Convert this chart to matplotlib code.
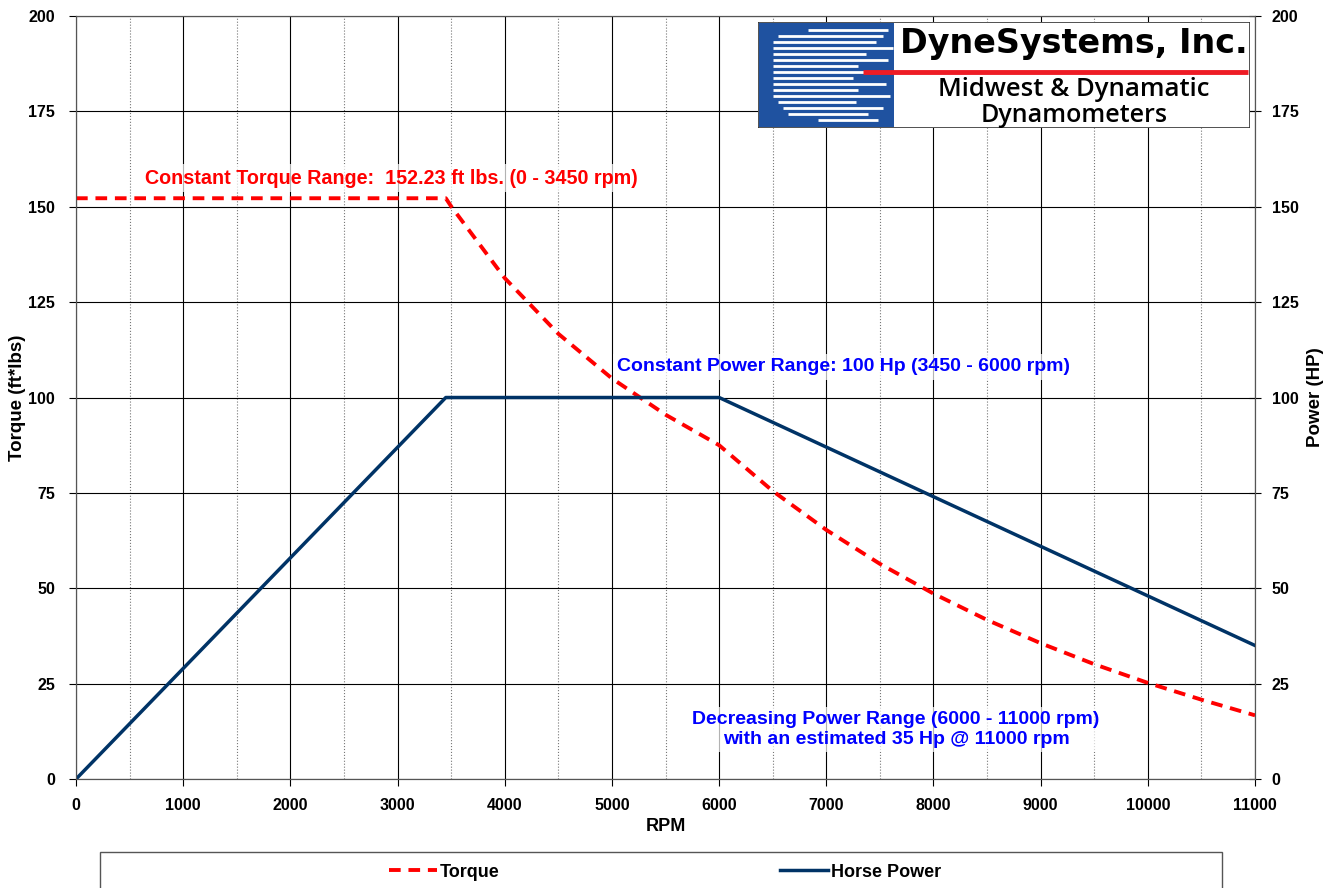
import numpy as np
import matplotlib.pyplot as plt
from matplotlib.patches import Rectangle

# data
rpm_torque = [0, 3450, 3500, 4000, 4500, 5000, 5500, 6000, 6500, 7000, 7500,
              8000, 8500, 9000, 9500, 10000, 10500, 11000]
torque = [152.23, 152.23, 150.1, 131.3, 116.7, 105.0, 95.5, 87.5, 75.5, 65.3, 56.4,
          48.6, 41.7, 35.6, 30.1, 25.2, 20.8, 16.7]
rpm_power = [0, 3450, 6000, 11000]
power = [0, 100, 100, 35]

plt.rcParams['font.family'] = ['Liberation Sans', 'DejaVu Sans']
plt.rcParams['font.weight'] = 'bold'

fig = plt.figure(figsize=(13.36, 8.88), dpi=100)
ax = fig.add_axes([0.0569, 0.1227, 0.8825, 0.8593])
ax2 = ax.twinx()

ax.set_xlim(0, 11000)
ax.set_ylim(0, 200)
ax2.set_ylim(0, 200)

ax.set_xticks(np.arange(0, 11001, 1000))
ax.set_xticks(np.arange(500, 11000, 1000), minor=True)
ax.set_yticks(np.arange(0, 201, 25))
ax2.set_yticks(np.arange(0, 201, 25))

ax.grid(True, which='major', color='black', lw=0.8)
ax.grid(True, which='minor', axis='x', color='#777777', lw=0.8, ls=':')
ax.tick_params(axis='x', which='major', direction='out', length=5, labelsize=11.5, pad=9)
ax.tick_params(axis='x', which='minor', length=0)
ax.tick_params(axis='y', direction='out', length=5, labelsize=11.5, pad=10)
ax2.tick_params(axis='y', direction='inout', length=8, labelsize=11.5, pad=8)
for a in (ax, ax2):
    for s in a.spines.values():
        s.set_color('#555555')
    for lab in a.get_xticklabels() + a.get_yticklabels():
        lab.set_fontweight('bold')

l1, = ax.plot(rpm_torque, torque, color='#FF0000', lw=2.8, ls=(0, (3, 2)), label='Torque', zorder=3)
l2, = ax.plot(rpm_power, power, color='#003366', lw=2.5, label='Horse Power', zorder=3)

ax.set_xlabel('RPM', fontsize=13, fontweight='bold', labelpad=3)
ax.set_ylabel('Torque (ft*lbs)', fontsize=13.5, fontweight='bold', labelpad=2)
ax2.set_ylabel('Power (HP)', fontsize=13.5, fontweight='bold', labelpad=6)

box = dict(facecolor='white', edgecolor='none', alpha=0.7, pad=3)
ax.text(644, 157.5, 'Constant Torque Range:  152.23 ft lbs. (0 - 3450 rpm)',
        color='#FF0000', fontsize=14.2, fontweight='bold', ha='left', va='center', bbox=box, zorder=4)
ax.text(7165, 108, 'Constant Power Range: 100 Hp (3450 - 6000 rpm)',
        color='#0000FF', fontsize=14, fontweight='bold', ha='center', va='center', bbox=box, zorder=4)
ax.text(7650, 13.0, 'Decreasing Power Range (6000 - 11000 rpm)\nwith an estimated 35 Hp @ 11000 rpm',
        color='#0000FF', fontsize=14, fontweight='bold', ha='center', va='center',
        linespacing=1.2, bbox=box, zorder=4)

# legend box (runs off the bottom edge like the original)
fig.patches.append(Rectangle((100 / 1336, -0.05), 1122 / 1336, 0.05 + 1 - 852 / 888,
                             transform=fig.transFigure, facecolor='white',
                             edgecolor='#555555', lw=1, zorder=0))
leg = fig.legend(handles=[l1, l2], loc='center', bbox_to_anchor=(665 / 1336, 1 - 872 / 888),
                 ncol=2, frameon=False, prop={'weight': 'bold', 'size': 13},
                 handlelength=2.7, handletextpad=0.15, columnspacing=15.5,
                 borderpad=0, borderaxespad=0)

# logo
lx0, ly0, lw_, lh_ = 758 / 1336, 1 - 128 / 888, 492 / 1336, 106 / 888
lax = fig.add_axes([lx0, ly0, lw_, lh_])
lax.set_xlim(0, 492)
lax.set_ylim(106, 0)
lax.axis('off')
lax.add_patch(Rectangle((0, 0), 492, 106, facecolor='white', edgecolor='#333333', lw=1.2, zorder=1))
lax.add_patch(Rectangle((1, 1), 135, 104, facecolor='#1F52A0', edgecolor='none', zorder=2))
streaks = [(8, 50, 130), (14, 20, 125), (20, 15, 118), (26, 15, 135), (32, 15, 108),
           (38, 15, 130), (44, 15, 100), (50, 15, 135), (56, 15, 95), (62, 15, 128),
           (68, 15, 100), (74, 15, 132), (80, 20, 98), (86, 25, 125), (92, 30, 110),
           (98, 60, 120)]
for yy, xa, xb in streaks:
    lax.plot([xa, xb], [yy, yy], color='white', lw=2.0, solid_capstyle='butt', zorder=3)
lax.plot([105, 490], [50, 50], color='#EE1C25', lw=3.5, solid_capstyle='butt', zorder=3)
lax.text(316, 21, 'DyneSystems, Inc.', fontsize=24, fontweight='bold', color='black',
         family=['DejaVu Sans'], ha='center', va='center', zorder=4)
lax.text(316, 68, 'Midwest & Dynamatic', fontsize=18.5, fontweight='semibold', color='black',
         family=['Open Sans', 'DejaVu Sans'], ha='center', va='center', zorder=4)
lax.text(316, 93, 'Dynamometers', fontsize=18, fontweight='semibold', color='black',
         family=['Open Sans', 'DejaVu Sans'], ha='center', va='center', zorder=4)

fig.savefig('out.png', dpi=100)
